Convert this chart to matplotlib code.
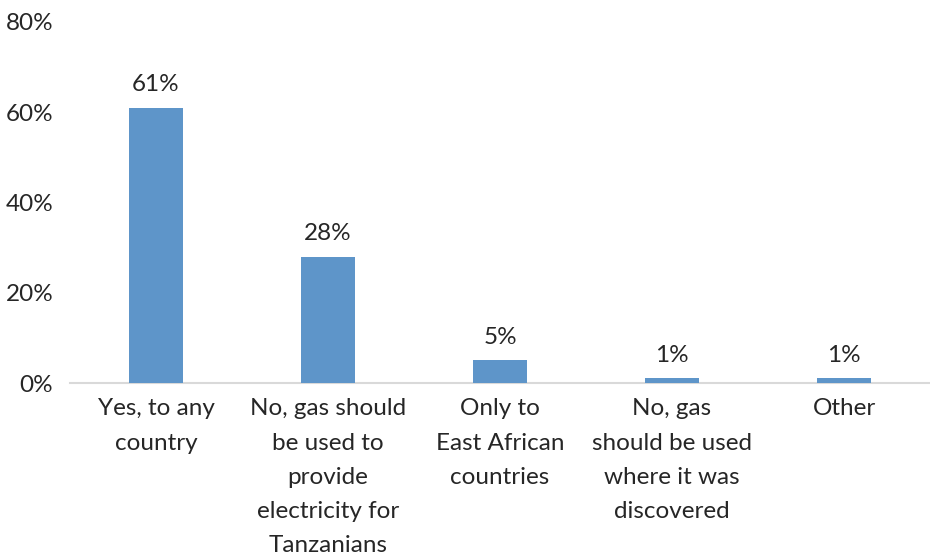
import matplotlib
matplotlib.use("Agg")
import matplotlib.pyplot as plt
from matplotlib.ticker import PercentFormatter

categories = [
    "Yes, to any\ncountry",
    "No, gas should\nbe used to\nprovide\nelectricity for\nTanzanians",
    "Only to\nEast African\ncountries",
    "No, gas\nshould be used\nwhere it was\ndiscovered",
    "Other",
]
values = [61, 28, 5, 1, 1]
y_ticks = [0, 20, 40, 60, 80]

bar_color = "#5E95C9"
text_color = "#262626"
font_size = 17.5

plt.rcParams["font.family"] = ["Lato", "DejaVu Sans"]

fig = plt.figure(figsize=(9.3, 5.58), dpi=100)
ax = fig.add_axes([0.0753, 0.3136, 0.9247, 0.647])

x = list(range(len(categories)))
bars = ax.bar(x, values, width=0.31, color=bar_color, zorder=3)

for rect, v in zip(bars, values):
    ax.annotate(f"{v}%", (rect.get_x() + rect.get_width() / 2, v),
                xytext=(0, 9), textcoords="offset points",
                ha="center", va="bottom", fontsize=font_size, color=text_color)

ax.set_xlim(-0.5, len(categories) - 0.5)
ax.set_ylim(0, 80)
ax.set_yticks(y_ticks)
ax.yaxis.set_major_formatter(PercentFormatter(decimals=0))
ax.set_xticks(x)
ax.set_xticklabels(categories, fontsize=font_size, color=text_color, linespacing=1.78)

ax.tick_params(axis="y", length=0, pad=12, labelsize=font_size, labelcolor=text_color)
ax.tick_params(axis="x", length=0, pad=11)

for side in ("top", "right", "left"):
    ax.spines[side].set_visible(False)
ax.spines["bottom"].set_color("#D9D9D9")
ax.spines["bottom"].set_linewidth(1.5)

fig.savefig("out.png", dpi=100)
